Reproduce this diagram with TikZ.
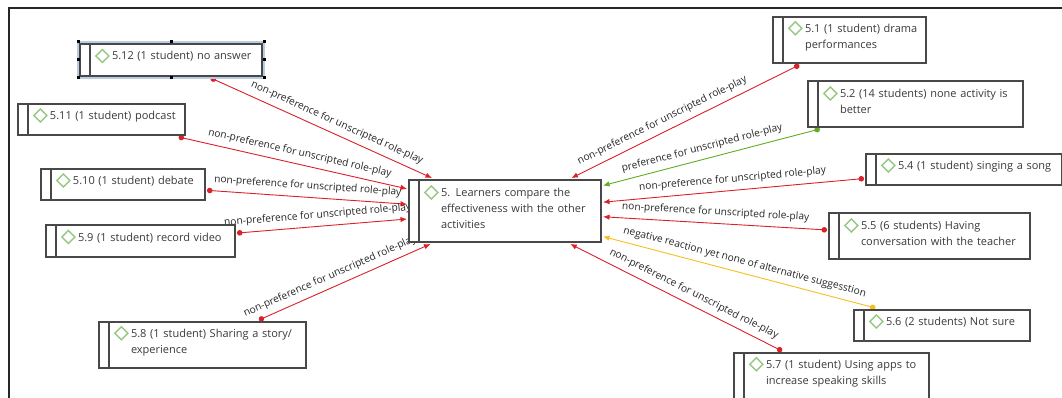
\documentclass[tikz,border=0pt]{standalone}
\usepackage{fontspec}
\setmainfont{Open Sans}
\usepackage{xcolor}
\usepackage{tikz}
\usetikzlibrary{arrows.meta,backgrounds}

\definecolor{codered}{RGB}{218,32,40}
\definecolor{codegreen}{RGB}{96,172,34}
\definecolor{codeyellow}{RGB}{246,190,30}
\definecolor{diagreen}{RGB}{150,200,130}
\definecolor{boxgray}{RGB}{72,72,72}
\definecolor{textgray}{RGB}{58,58,58}
\definecolor{selblue}{RGB}{188,204,224}

\newcommand{\dia}{\tikz[baseline=-4pt]\draw[diagreen,line width=1.3pt] (0,-6.5pt) -- (6.5pt,0) -- (0,6.5pt) -- (-6.5pt,0) -- cycle;}
\newcommand{\codetext}[1]{\leftskip=28pt\leavevmode\llap{\dia\hspace{2.5pt}}#1\par\vspace{8pt}}

\begin{document}
\begin{tikzpicture}[x=1pt,y=-1pt,>={Latex[length=6.5pt,width=5.5pt]},
  code node/.style={rectangle,draw=boxgray,fill=white,line width=1.1pt,anchor=north west,align=left,inner xsep=4pt,inner ysep=3pt,outer sep=2pt,text=textgray,font=\fontsize{11}{16}\selectfont,
    path picture={\draw[boxgray,line width=1.1pt] ([xshift=10pt]path picture bounding box.north west) -- ([xshift=10pt]path picture bounding box.south west);}},
  label text/.style={sloped,above,inner sep=5.5pt,text=black!85,font=\fontsize{10.2}{12}\selectfont},
  red edge/.style={color=codered,line width=0.9pt,{Circle[length=5.5pt]}->},
  green edge/.style={red edge,color=codegreen},
  yellow edge/.style={red edge,color=codeyellow}]
  \useasboundingbox (0,0) rectangle (1062,398);
  \draw[line width=1.8pt,black!85] (9,398) -- (9,8) -- (1062,8);

  \node[code node,text width=184pt,minimum height=62pt] (central) at (407,178) {\codetext{5. Learners compare the\\effectiveness with the other\\activities}};

  \node[code node,text width=174pt,minimum height=32pt] (c512) at (78,42) {\codetext{5.12 (1 student) no answer}};
  \node[code node,text width=159pt,minimum height=31pt] (c511) at (16,102) {\codetext{5.11 (1 student) podcast}};
  \node[code node,text width=156pt,minimum height=31pt] (c510) at (39,167) {\codetext{5.10 (1 student) debate}};
  \node[code node,text width=181pt,minimum height=32pt] (c59) at (44,223) {\codetext{5.9 (1 student) record video}};
  \node[code node,text width=199pt,minimum height=46pt] (c58) at (97,320) {\codetext{5.8 (1 student) Sharing a story/\\experience}};

  \node[code node,text width=145pt,minimum height=46pt] (c51) at (771,15) {\codetext{5.1 (1 student) drama\\performances}};
  \node[code node,text width=207pt,minimum height=46pt] (c52) at (806,79) {\codetext{5.2 (14 students) none activity is\\better}};
  \node[code node,text width=188pt,minimum height=31pt] (c54) at (864,152) {\codetext{5.4 (1 student) singing a song}};
  \node[code node,text width=193pt,minimum height=46pt] (c55) at (827,211) {\codetext{5.5 (6 students) Having\\conversation with the teacher}};
  \node[code node,text width=168pt,minimum height=31pt] (c56) at (852,308) {\codetext{5.6 (2 students) Not sure}};
  \node[code node,text width=187pt,minimum height=46pt] (c57) at (732,351) {\codetext{5.7 (1 student) Using apps to\\increase speaking skills}};

  \draw[selblue,line width=1.5pt] (c512.north west) rectangle (c512.south east);
  \foreach \a in {north west,north,north east,east,south east,south,south west,west}
    \fill[black] ([shift={(-1.5pt,-1.5pt)}]c512.\a) rectangle ++(3pt,3pt);

  \begin{scope}[on background layer]
  \path[every node/.style={label text}]
  (c512) edge[red edge] node[pos=.55] {non-preference for unscripted role-play} (central)
  (c511) edge[red edge] node[pos=.52] {non-preference for unscripted role-play} (central)
  (c510) edge[red edge] node[pos=.5] {non-preference for unscripted role-play} (central)
  (c59) edge[red edge] node[pos=.48] {non-preference for unscripted role-play} (central)
  (c58) edge[red edge] node[pos=.44] {non-preference for unscripted role-play} (central)
  (c51) edge[red edge] node[pos=.58] {non-preference for unscripted role-play} (central)
  (c52) edge[green edge] node[pos=.53] {preference for unscripted role-play} (central)
  (c54) edge[red edge] node[pos=.5] {non-preference for unscripted role-play} (central)
  (c55) edge[red edge] node[pos=.5] {non-preference for unscripted role-play} (central)
  (c56) edge[yellow edge] node[pos=.49] {negative reaction yet none of alternative suggesstion} (central)
  (c57) edge[red edge] node[pos=.44] {non-preference for unscripted role-play} (central);
  \end{scope}
\end{tikzpicture}
\end{document}
